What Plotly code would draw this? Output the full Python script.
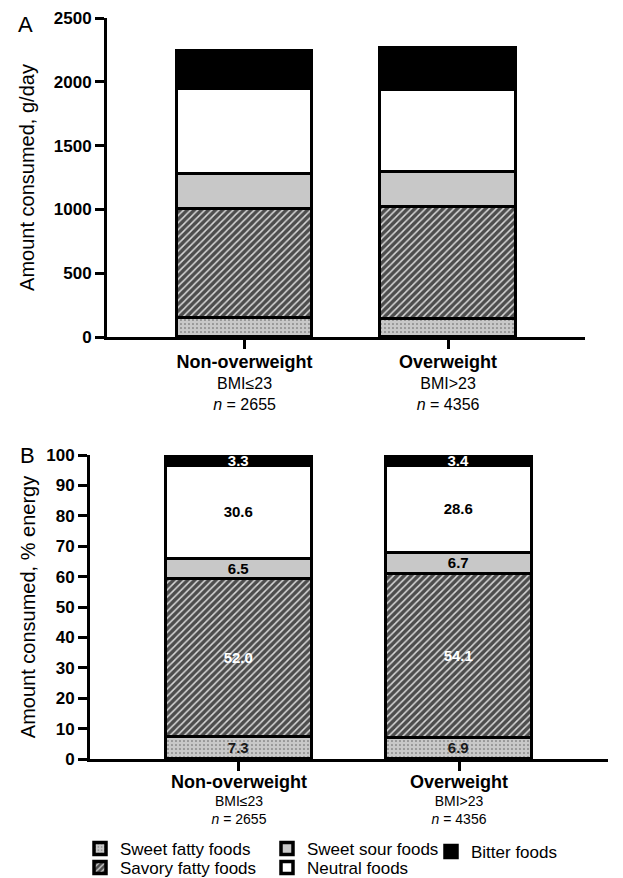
import plotly.graph_objects as go

# ---------------- data ----------------
groups = ["Non-overweight", "Overweight"]
bmi_labels = ["BMI≤23", "BMI>23"]
n_labels = ["2655", "4356"]
food_groups = ["Sweet fatty foods", "Savory fatty foods", "Sweet sour foods",
               "Neutral foods", "Bitter foods"]

# Panel A: amount consumed, g/day
sweet_fatty_g = [150, 140]
savory_fatty_g = [850, 876]
sweet_sour_g = [277, 279]
neutral_g = [665, 641]
bitter_g = [300, 331]

# Panel B: amount consumed, % energy
sweet_fatty_pct = [7.3, 6.9]
savory_fatty_pct = [52.0, 54.1]
sweet_sour_pct = [6.5, 6.7]
neutral_pct = [30.6, 28.6]
bitter_pct = [3.3, 3.4]

yticks_a = [0, 500, 1000, 1500, 2000, 2500]
yticks_b = [0, 10, 20, 30, 40, 50, 60, 70, 80, 90, 100]

# ---------------- styles ----------------
FONT = "Liberation Sans, Arial, sans-serif"
styles = [
    dict(color="#c8c8c8", pattern=dict(shape=".", bgcolor="#c8c8c8", fgcolor="#5a5a5a",
                                       size=4, solidity=0.12, fillmode="replace"),
         text_color="#1a1a1a"),
    dict(color="#4d4d4d", pattern=dict(shape="/", bgcolor="#4d4d4d", fgcolor="#d8d8d8",
                                       size=5, solidity=0.3, fillmode="replace"),
         text_color="#ffffff"),
    dict(color="#c8c8c8", pattern=None, text_color="#000000"),
    dict(color="#ffffff", pattern=None, text_color="#000000"),
    dict(color="#000000", pattern=None, text_color="#ffffff"),
]
legend_ids = ["legend", "legend2", "legend", "legend2", "legend3"]

series_a = [sweet_fatty_g, savory_fatty_g, sweet_sour_g, neutral_g, bitter_g]
series_b = [sweet_fatty_pct, savory_fatty_pct, sweet_sour_pct, neutral_pct, bitter_pct]

xpos = [0, 1]
BAR_W = 0.664

fig = go.Figure()

for i, name in enumerate(food_groups):
    st = styles[i]
    marker = dict(color=st["color"], line=dict(color="#000000", width=3))
    if st["pattern"]:
        marker["pattern"] = st["pattern"]
    fig.add_trace(go.Bar(
        x=xpos, y=series_a[i], name=name, width=BAR_W, marker=marker,
        xaxis="x", yaxis="y", showlegend=False, hoverinfo="skip"))

for i, name in enumerate(food_groups):
    st = styles[i]
    marker = dict(color=st["color"], line=dict(color="#000000", width=3.5))
    if st["pattern"]:
        marker["pattern"] = st["pattern"]
    fig.add_trace(go.Bar(
        x=xpos, y=series_b[i], name=name, width=BAR_W, marker=marker,
        xaxis="x2", yaxis="y2", showlegend=True, legend=legend_ids[i],
        text=[f"{v:.1f}" for v in series_b[i]], textposition="inside",
        insidetextanchor="middle", constraintext="none",
        textfont=dict(family=FONT, size=15, color=st["text_color"], weight="bold"),
        hoverinfo="skip"))

def ticklabels(bold_size):
    return [f"<span style='font-size:{bold_size}px'><b>{g}</b></span><br>{b}<br><i>n</i> = {n}"
            for g, b, n in zip(groups, bmi_labels, n_labels)]

# The page adds an 8px body margin, so the figure is drawn 8px smaller and
# every page-pixel position is shifted by that offset.
OFF = 8
W, H = 623 - OFF, 878 - OFF
def fx(p):
    return (p - OFF) / W
def fy(p):
    return (H - (p - OFF)) / H
def px_x(a, b):
    return [fx(a), fx(b)]
def px_y(top, bottom):
    return [fy(bottom), fy(top)]

axis_common = dict(showgrid=False, zeroline=False, showline=True, linecolor="#000000",
                   linewidth=3, ticks="outside", ticklen=9, tickwidth=3, tickcolor="#000000",
                   automargin=False)

LEG_FONT = dict(family=FONT, size=17, color="#000000")

fig.update_layout(
    width=W, height=H, margin=dict(l=0, r=0, t=0, b=0, autoexpand=False),
    paper_bgcolor="#ffffff", plot_bgcolor="#ffffff",
    barmode="stack", bargap=0,
    font=dict(family=FONT, color="#000000"),
    uniformtext=dict(minsize=15, mode="show"),
    xaxis=dict(domain=px_x(107, 585), anchor="y", range=[-0.676, 1.673],
               tickmode="array", tickvals=xpos, ticktext=ticklabels(18),
               tickfont=dict(family=FONT, size=16, color="#000000"), **axis_common),
    yaxis=dict(domain=px_y(18, 337), anchor="x", range=[0, 2500],
               tickmode="array", tickvals=yticks_a, ticktext=[str(v) for v in yticks_a],
               tickfont=dict(family=FONT, size=17, color="#000000", weight="bold"),
               title=dict(text="Amount consumed, g/day", font=dict(family=FONT, size=20),
                          standoff=14),
               **axis_common),
    xaxis2=dict(domain=px_x(90, 608), anchor="y2", range=[-0.677, 1.677],
                tickmode="array", tickvals=xpos, ticktext=ticklabels(18),
                tickfont=dict(family=FONT, size=14, color="#000000"), **axis_common),
    yaxis2=dict(domain=px_y(455, 759), anchor="x2", range=[0, 100],
                tickmode="array", tickvals=yticks_b, ticktext=[str(v) for v in yticks_b],
                tickfont=dict(family=FONT, size=17, color="#000000", weight="bold"),
                title=dict(text="Amount consumed, % energy", font=dict(family=FONT, size=20),
                           standoff=6),
                **axis_common),
    legend=dict(orientation="h", x=fx(80), xanchor="left", y=fy(849), yanchor="middle",
                entrywidth=142, entrywidthmode="pixels", traceorder="normal",
                font=LEG_FONT, bgcolor="rgba(0,0,0,0)"),
    legend2=dict(orientation="h", x=fx(80), xanchor="left", y=fy(868), yanchor="middle",
                 entrywidth=142, entrywidthmode="pixels", traceorder="normal",
                 font=LEG_FONT, bgcolor="rgba(0,0,0,0)"),
    legend3=dict(orientation="h", x=fx(431), xanchor="left", y=fy(852), yanchor="middle",
                 font=LEG_FONT, bgcolor="rgba(0,0,0,0)"),
    annotations=[
        dict(text="A", x=fx(25), y=fy(24), xref="paper", yref="paper",
             showarrow=False, font=dict(family=FONT, size=22, color="#000000"),
             xanchor="center", yanchor="middle"),
        dict(text="B", x=fx(27), y=fy(455), xref="paper", yref="paper",
             showarrow=False, font=dict(family=FONT, size=22, color="#000000"),
             xanchor="center", yanchor="middle"),
    ],
)

fig.write_html("out.html")
